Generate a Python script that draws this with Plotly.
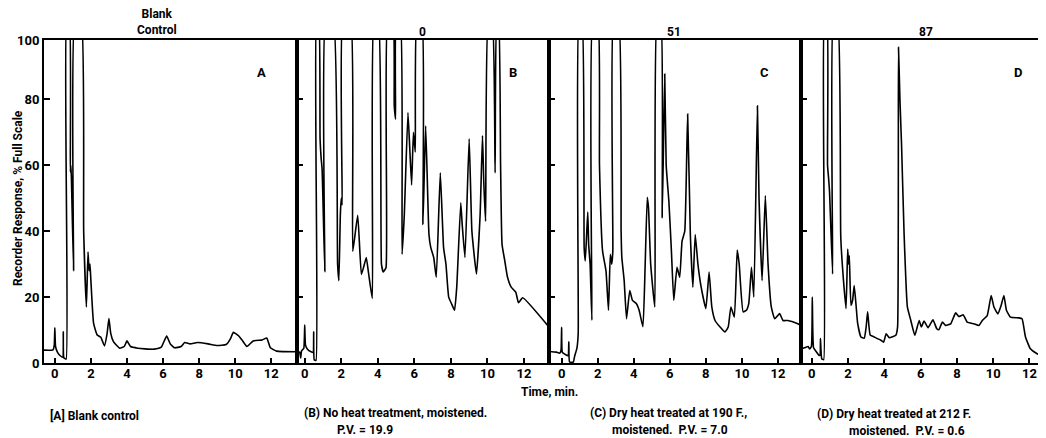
import plotly.graph_objects as go

# ---- data (time in min, response in % full scale; >100 = off scale) ----
time_a = [-0.6, -0.1, -0.03, 0.0, 0.04, 0.15, 0.3, 0.44, 0.47, 0.5, 0.63, 0.66, 0.8, 0.86, 0.89, 0.92,
          1.04, 1.12, 1.45, 1.6, 1.75, 1.84, 1.9, 1.95, 2.0, 2.15, 2.35, 2.55, 2.75, 2.9, 3.0, 3.1, 3.25,
          3.6, 3.85, 4.0, 4.2, 4.6, 5.0, 5.5, 5.9, 6.2, 6.4, 6.65, 7.0, 7.2, 7.5, 7.9, 8.5, 9.0, 9.5,
          9.75, 9.9, 10.2, 10.4, 10.65, 11.0, 11.5, 11.75, 11.95, 12.3, 13.4]
resp_a = [3.9, 4.0, 5.5, 10.7, 5.0, 3.2, 2.2, 1.8, 9.5, 1.6, 1.2, 105, 105, 58, 60, 56,
          28, 105, 105, 40, 17, 33.7, 28, 30, 25, 12, 8.5, 7.8, 5.2, 9.0, 13.5, 9.0, 6.5,
          4.5, 5.0, 6.7, 5.0, 4.5, 4.3, 4.2, 4.8, 8.2, 5.8, 4.6, 5.0, 6.2, 5.8, 6.2, 5.8, 5.3, 5.6,
          7.5, 9.3, 8.2, 6.8, 5.0, 6.7, 7.0, 7.6, 4.6, 3.6, 3.4]

time_b = [-0.45, -0.28, -0.22, -0.18, -0.05, 0.0, 0.04, 0.15, 0.35, 0.46, 0.49, 0.52, 0.62, 0.65, 0.76,
          0.84, 0.9, 0.95, 1.1, 1.16, 1.55, 1.8, 1.87, 1.95, 2.0, 2.05, 2.1, 2.5, 2.63, 2.9, 3.1, 3.22,
          3.37, 3.5, 3.7, 3.8, 4.02, 4.2, 4.3, 4.45, 4.55, 4.82, 4.9, 4.97, 5.02, 5.22, 5.33, 5.45,
          5.65, 5.75, 5.85, 5.95, 6.05, 6.15, 6.4, 6.47, 6.62, 6.8, 6.9, 7.06, 7.2, 7.42, 7.6, 7.73,
          7.88, 8.05, 8.2, 8.32, 8.54, 8.62, 8.77, 9.0, 9.15, 9.4, 9.6, 9.73, 9.8, 9.9, 10.06, 10.25,
          10.42, 10.52, 10.6, 10.72, 10.8, 10.95, 11.1, 11.3, 11.55, 11.7, 11.93, 13.4]
resp_b = [3.2, 3.3, 1.5, 3.6, 4.5, 11.5, 5.5, 4.2, 3.4, 3.2, 9.5, 1.0, 0.8, 105, 105,
          68, 62, 59, 27.7, 105, 105, 30, 25, 45, 50, 48, 105, 105, 33.9, 44.8, 26.9, 29,
          32, 27, 19.6, 105, 105, 30, 27.6, 29, 105, 105, 78, 74, 105, 105, 33, 45,
          76, 65, 54, 70, 64, 105, 105, 42, 72, 39, 35, 32, 26, 57.7, 35, 30,
          20, 17.8, 16, 23, 48.6, 42, 32, 68, 40, 27, 45, 69, 55, 43, 105, 105,
          57.7, 105, 105, 60, 36, 31, 26, 23, 21.5, 18.3, 19.8, 10.7]

time_c = [-0.7, -0.3, -0.1, -0.03, 0.0, 0.04, 0.2, 0.36, 0.4, 0.44, 0.65, 0.72, 0.85, 0.92, 0.97, 1.12,
          1.25, 1.31, 1.38, 1.45, 1.5, 1.58, 1.68, 1.74, 2.0, 2.1, 2.27, 2.46, 2.6, 2.7, 2.78, 2.84,
          2.89, 3.15, 3.3, 3.34, 3.47, 3.6, 3.78, 3.93, 4.15, 4.3, 4.51, 4.63, 4.75, 4.82, 4.94, 5.17,
          5.3, 5.49, 5.58, 5.72, 5.8, 5.95, 6.09, 6.22, 6.4, 6.55, 6.68, 6.83, 6.99, 7.14, 7.28, 7.41,
          7.56, 7.74, 8.0, 8.18, 8.33, 8.51, 8.79, 9.06, 9.24, 9.39, 9.58, 9.74, 9.85, 10.07, 10.25,
          10.38, 10.53, 10.66, 10.86, 10.95, 11.12, 11.3, 11.45, 11.63, 11.82, 12.09, 12.28, 12.55,
          13.1, 13.25]
resp_c = [3.5, 3.3, 3.0, 4.0, 10.8, 3.2, 2.6, 2.2, 6.4, 0.3, 0.3, 2.0, 4.5, 9.0, 105, 105,
          35, 31, 38, 45.8, 36, 30, 13, 105, 105, 60, 34, 28, 16, 33, 30, 34,
          105, 105, 40, 32, 25, 13.4, 22, 19, 18, 16, 11, 29, 50.3, 47, 30, 17,
          105, 105, 44, 87.7, 60, 49, 34, 19, 29, 26, 37, 40, 75.5, 39, 23, 39,
          30, 23, 16.5, 27.6, 17, 12.9, 10.9, 9.4, 10.9, 17, 13.9, 34.3, 30, 15.5, 16,
          18, 29, 20, 78, 50, 25, 50.8, 30, 17, 13.4, 15, 12.9, 12.9,
          11.9, 11.5]

time_d = [-0.62, -0.4, -0.2, -0.12, -0.02, 0.03, 0.1, 0.25, 0.4, 0.46, 0.48, 0.55, 0.66, 0.7, 0.83,
          0.87, 0.93, 0.98, 1.15, 1.2, 1.42, 1.6, 1.75, 1.89, 1.98, 2.03, 2.07, 2.16, 2.25, 2.34,
          2.45, 2.53, 2.71, 2.89, 3.0, 3.08, 3.22, 3.44, 3.81, 3.96, 4.1, 4.27, 4.63, 4.73, 4.78,
          4.86, 4.95, 5.09, 5.27, 5.46, 5.68, 5.92, 6.04, 6.19, 6.41, 6.68, 6.89, 7.01, 7.2, 7.38,
          7.66, 7.93, 8.11, 8.35, 8.57, 8.94, 9.21, 9.4, 9.67, 9.89, 10.04, 10.26, 10.44, 10.59,
          10.73, 10.95, 11.41, 11.59, 11.78, 12.05, 12.42, 12.8]
resp_d = [4.2, 4.6, 5.0, 4.3, 5.0, 20, 4.6, 3.4, 2.3, 2.5, 7.4, 1.3, 1.0, 105, 105,
          60, 56, 52, 27, 105, 105, 38, 25, 16.5, 34.6, 30, 32.5, 17.5, 19, 23.5,
          17, 12, 7.9, 7.5, 11, 15.5, 8.5, 7.9, 6.9, 6.3, 8.9, 7.7, 8.4, 10.9, 95.8,
          80, 66, 39, 17, 12.9, 8.4, 12.9, 10.9, 12.7, 10.7, 13.1, 10.4, 10.1, 12.4, 11.4,
          11.9, 15.2, 14.1, 14.6, 12.4, 11.9, 11.4, 12.9, 14.4, 20.5, 17, 14.9, 17.5, 20.5,
          16, 13.9, 13.7, 13.4, 7.9, 4.3, 2.8, 2.0]

panel_letters = ["A", "B", "C", "D"]
panel_titles = ["Blank<br>Control", "0", "51", "87"]
captions = [
    ["[A] Blank control"],
    ["(B) No heat treatment, moistened.", "P.V. = 19.9"],
    ["(C) Dry heat treated at 190 F.,", "moistened.  P.V. = 7.0"],
    ["(D) Dry heat treated at 212 F.", "moistened.  P.V. = 0.6"],
]
x_tick_vals = [0, 2, 4, 6, 8, 10, 12]
y_tick_vals = [0, 20, 40, 60, 80, 98]
y_tick_text = ["0", "20", "40", "60", "80", "100"]

# ---- layout ----
FONT = "Roboto, Liberation Sans, sans-serif"
series = [(time_a, resp_a), (time_b, resp_b), (time_c, resp_c), (time_d, resp_d)]
domains = [[0.0, 0.2525], [0.2525, 0.505], [0.505, 0.7565], [0.7565, 1.0]]
xranges = [[-0.6, 13.4], [-0.45, 13.37], [-0.7, 13.25], [-0.62, 12.8]]

def bold(size):
    return dict(family=FONT, size=size, color="black", weight="bold")

fig = go.Figure()
for i, (t, r) in enumerate(series):
    sfx = "" if i == 0 else str(i + 1)
    fig.add_trace(go.Scatter(x=t, y=r, mode="lines",
                             line=dict(color="black", width=1.6, shape="spline", smoothing=0.4),
                             xaxis="x" + sfx, yaxis="y" + sfx, showlegend=False, hoverinfo="skip"))
    fig.update_layout(**{
        "xaxis" + sfx: dict(domain=domains[i], range=xranges[i], anchor="y" + sfx,
                            tickvals=x_tick_vals, ticks="inside", ticklen=5, tickwidth=1.5,
                            tickcolor="black", showline=True, linecolor="black", linewidth=2,
                            mirror=True, showgrid=False, zeroline=False, ticklabelstandoff=-3,
                            tickfont=bold(13)),
        "yaxis" + sfx: dict(domain=[0, 1], range=[0, 98], anchor="x" + sfx,
                            tickvals=y_tick_vals, ticktext=y_tick_text, ticks="inside", ticklen=6,
                            tickwidth=1.5, tickcolor="black", showticklabels=(i == 0),
                            showline=True, linecolor="black", linewidth=2, mirror=True,
                            showgrid=False, zeroline=False, tickfont=bold(13)),
    })

# positions given in page pixels (reference picture)
ann = []
letter_x = [262, 514, 766, 1020]
title_x = [157, 423, 675, 928]
title_y = [22, 32, 32, 32]
for i in range(4):
    ann.append(dict(x=letter_x[i], y=72, text=panel_letters[i], font=bold(13)))
    ann.append(dict(x=title_x[i], y=title_y[i], text=panel_titles[i], font=bold(12)))

cap_pos = [[(95, 415)], [(396, 413), (366, 430)], [(670, 413), (671, 430)], [(896, 414), (909, 431)]]
for i in range(4):
    for txt, (px, py) in zip(captions[i], cap_pos[i]):
        ann.append(dict(x=px, y=py, text=txt, font=bold(12)))
ann.append(dict(x=551, y=392, text="Time, min.", font=bold(12)))
ann.append(dict(x=18, y=198, text="Recorder Response, % Full Scale", textangle=-90, font=bold(12)))

# convert page pixels -> paper coords (page has an 8px body margin)
OFF = 8
W, H = 1038, 430
L, R, T = 44 - OFF, 0, 40 - OFF
B = H - (363 - OFF)
pw, ph = W - L - R, H - T - B
for a in ann:
    a["x"] = (a["x"] - OFF - L) / pw
    a["y"] = (H - B - (a["y"] - OFF)) / ph
    a.update(xref="paper", yref="paper", xanchor="center", yanchor="middle", showarrow=False)

fig.update_layout(width=W, height=H, margin=dict(l=L, r=R, t=T, b=B),
                  paper_bgcolor="white", plot_bgcolor="white", annotations=ann,
                  font=dict(family=FONT, color="black"))
fig.write_html("out.html")
